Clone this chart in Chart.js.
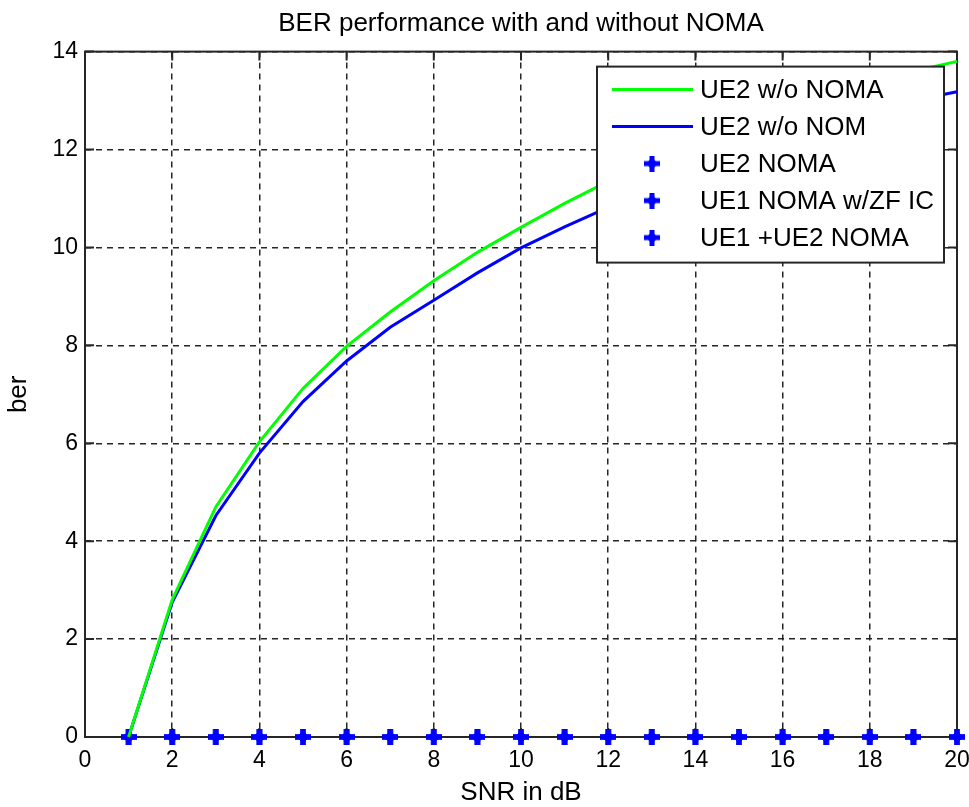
<!DOCTYPE html>
<html>
<head>
<meta charset="utf-8">
<script src="https://cdn.jsdelivr.net/npm/chart.js@4.4.0/dist/chart.umd.min.js"></script>
<style>
  html, body { margin: 0; padding: 0; background: #fff; }
  #wrap { width: 969px; height: 807px; }
</style>
</head>
<body>
<div id="wrap"><canvas id="ber_chart" width="969" height="807"></canvas></div>
<script>
// values
var snr_db = [1, 2, 3, 4, 5, 6, 7, 8, 9, 10, 11, 12, 13, 14, 15, 16, 17, 18, 19, 20];
var ber_ue2_green = [0, 2.8, 4.7, 6.03, 7.12, 7.98, 8.68, 9.32, 9.9, 10.41, 10.9, 11.35, 11.75, 12.12, 12.47, 12.8, 13.1, 13.35, 13.6, 13.8];
var ber_ue2_blue = [0, 2.75, 4.52, 5.8, 6.85, 7.68, 8.37, 8.92, 9.48, 9.99, 10.42, 10.82, 11.2, 11.55, 11.9, 12.2, 12.5, 12.75, 13.0, 13.18];
var ber_ue2_noma = [0, 0, 0, 0, 0, 0, 0, 0, 0, 0, 0, 0, 0, 0, 0, 0, 0, 0, 0, 0];
var ber_ue1_zf = [0, 0, 0, 0, 0, 0, 0, 0, 0, 0, 0, 0, 0, 0, 0, 0, 0, 0, 0, 0];
var ber_ue1_ue2 = [0, 0, 0, 0, 0, 0, 0, 0, 0, 0, 0, 0, 0, 0, 0, 0, 0, 0, 0, 0];
var legend_labels = ["UE2 w/o NOMA", "UE2 w/o NOM", "UE2 NOMA", "UE1 NOMA w/ZF IC", "UE1 +UE2 NOMA"];

var font_family = '"Liberation Sans", Arial, sans-serif';
var frame_color = "#262626";

function toPoints(ys) {
  return snr_db.map(function(x, i) { return { x: x, y: ys[i] }; });
}

// blue "+" marker like the matlab one
function makeMarker() {
  var c = document.createElement("canvas");
  c.width = 16;
  c.height = 16;
  var g = c.getContext("2d");
  g.fillStyle = "#0000ff";
  g.fillRect(5.5, 0, 5, 16);
  g.fillRect(0, 5.5, 16, 5);
  g.beginPath();
  g.moveTo(8, 2);
  g.lineTo(14, 8);
  g.lineTo(8, 14);
  g.lineTo(2, 8);
  g.closePath();
  g.fill();
  return c;
}
var marker = makeMarker();

function lineSet(label, ys, color) {
  return {
    label: label,
    data: toPoints(ys),
    showLine: true,
    borderColor: color,
    backgroundColor: color,
    borderWidth: 3,
    pointRadius: 0,
    tension: 0,
    clip: false
  };
}

function markerSet(label, ys) {
  return {
    label: label,
    data: toPoints(ys),
    showLine: false,
    pointStyle: marker,
    pointRadius: 8,
    borderColor: "#0000ff",
    backgroundColor: "#0000ff",
    clip: false
  };
}

// solid box round the axes plus inward tick marks
var axesFrame = {
  id: "axesFrame",
  beforeDatasetsDraw: function(chart) {
    var ctx = chart.ctx;
    var a = chart.chartArea;
    var xs = chart.scales.x;
    var ys = chart.scales.y;
    var tl = 9;
    ctx.save();
    ctx.strokeStyle = frame_color;
    ctx.lineWidth = 2;
    ctx.strokeRect(a.left, a.top, a.right - a.left, a.bottom - a.top);
    ctx.beginPath();
    xs.ticks.forEach(function(t) {
      var px = xs.getPixelForValue(t.value);
      ctx.moveTo(px, a.bottom); ctx.lineTo(px, a.bottom - tl);
      ctx.moveTo(px, a.top); ctx.lineTo(px, a.top + tl);
    });
    ys.ticks.forEach(function(t) {
      var py = ys.getPixelForValue(t.value);
      ctx.moveTo(a.left, py); ctx.lineTo(a.left + tl, py);
      ctx.moveTo(a.right, py); ctx.lineTo(a.right - tl, py);
    });
    ctx.stroke();
    ctx.restore();
  }
};

// matlab style legend box in the upper right corner
var boxLegend = {
  id: "boxLegend",
  afterDraw: function(chart) {
    var ctx = chart.ctx;
    var a = chart.chartArea;
    var w = 347, h = 196;
    var left = a.right - 13 - w;
    var top = a.top + 15;
    var row = 37;
    ctx.save();
    ctx.fillStyle = "#fff";
    ctx.fillRect(left, top, w, h);
    ctx.strokeStyle = frame_color;
    ctx.lineWidth = 2;
    ctx.strokeRect(left, top, w, h);
    ctx.font = "26px " + font_family;
    ctx.textBaseline = "middle";
    chart.data.datasets.forEach(function(ds, i) {
      var cy = top + 23 + i * row;
      if (ds.showLine === false) {
        ctx.drawImage(marker, left + 55 - 8, cy - 8);
      } else {
        ctx.strokeStyle = ds.borderColor;
        ctx.lineWidth = 3;
        ctx.beginPath();
        ctx.moveTo(left + 15, cy);
        ctx.lineTo(left + 96, cy);
        ctx.stroke();
      }
      ctx.fillStyle = "#000";
      ctx.fillText(legend_labels[i], left + 103, cy + 1);
    });
    ctx.restore();
  }
};

var ctx = document.getElementById("ber_chart").getContext("2d");
var berChart = new Chart(ctx, {
  type: "scatter",
  data: {
    datasets: [
      lineSet(legend_labels[0], ber_ue2_green, "#00ff00"),
      lineSet(legend_labels[1], ber_ue2_blue, "#0000ff"),
      markerSet(legend_labels[2], ber_ue2_noma),
      markerSet(legend_labels[3], ber_ue1_zf),
      markerSet(legend_labels[4], ber_ue1_ue2)
    ]
  },
  options: {
    responsive: false,
    animation: false,
    events: [],
    layout: { padding: { left: 0, right: 12, top: 0, bottom: 0 } },
    plugins: {
      legend: { display: false },
      tooltip: { enabled: false },
      title: {
        display: true,
        fullSize: false,
        text: "BER performance with and without NOMA",
        color: "#000",
        font: { family: font_family, size: 26, weight: "normal", lineHeight: 1.2 },
        padding: { top: 8, bottom: 12.4 }
      }
    },
    scales: {
      x: {
        type: "linear",
        min: 0,
        max: 20,
        ticks: {
          stepSize: 2,
          padding: 10,
          color: "#000",
          font: { family: font_family, size: 23 }
        },
        grid: { color: frame_color, lineWidth: 1.5, drawTicks: false },
        border: { display: false, dash: [6, 5] },
        title: {
          display: true,
          text: "SNR in dB",
          color: "#000",
          font: { family: font_family, size: 26, lineHeight: 1 },
          padding: { top: 0, bottom: 1 }
        },
        afterFit: function(scale) {
          scale.height = 70;
          scale.paddingLeft = 0;
          scale.paddingRight = 0;
        }
      },
      y: {
        type: "linear",
        min: 0,
        max: 14,
        ticks: {
          stepSize: 2,
          padding: 7,
          color: "#000",
          font: { family: font_family, size: 23 }
        },
        grid: { color: frame_color, lineWidth: 1.5, drawTicks: false },
        border: { display: false, dash: [6, 5] },
        title: {
          display: true,
          text: "ber",
          color: "#000",
          font: { family: font_family, size: 26, lineHeight: 1 },
          padding: { top: 6, bottom: 0 }
        },
        afterFit: function(scale) {
          scale.width = 85;
          scale.paddingTop = 0;
          scale.paddingBottom = 0;
        }
      }
    }
  },
  plugins: [axesFrame, boxLegend]
});
</script>
</body>
</html>
